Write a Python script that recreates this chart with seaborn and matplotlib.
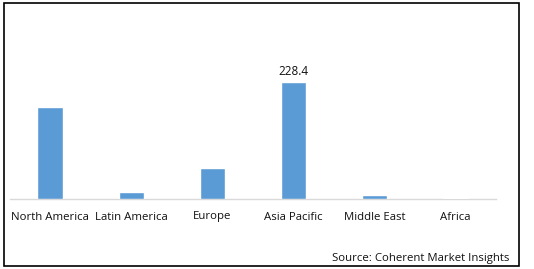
import matplotlib
matplotlib.use("Agg")
import matplotlib.pyplot as plt
from matplotlib.patches import Rectangle
import seaborn as sns
import pandas as pd

regions = ["North America", "Latin America", "Europe", "Asia Pacific", "Middle East", "Africa"]
values = [179.6, 13.7, 60.5, 228.4, 7.8, 2.6]
labeled_region = "Asia Pacific"
source_text = "Source: Coherent Market Insights"

sns.set_theme(style="white")
plt.rcParams['font.family'] = ['Open Sans', 'DejaVu Sans']

W, H = 534, 269
fig = plt.figure(figsize=(W / 100, H / 100), dpi=100)
ax = fig.add_axes([9.5 / W, 1 - 199 / H, (496 - 9.5) / W, (199 - 20) / H])

df = pd.DataFrame({"region": regions, "value": values})
sns.barplot(data=df, x="region", y="value", color="#5B9BD5", width=0.31,
            saturation=1, ax=ax)
for p in ax.patches:
    p.set_zorder(3)

ax.set_xlim(-0.5, len(regions) - 0.5)
ax.set_ylim(0, 350)
ax.set_xlabel("")
ax.set_ylabel("")
ax.set_yticks([])
for s in ["top", "right", "left"]:
    ax.spines[s].set_visible(False)
ax.spines["bottom"].set_color("#D9D9D9")
ax.spines["bottom"].set_linewidth(1)
ax.spines["bottom"].set_zorder(1)
ax.tick_params(axis="x", length=0, pad=9, labelsize=8.2, labelcolor="#111111")

idx = regions.index(labeled_region)
ax.text(idx, values[idx] + 9, f"{values[idx]:.1f}", ha="center", va="bottom",
        fontsize=8.4, color="#111111")

fig.text(509 / W, 1 - 259 / H, source_text, ha="right", va="center",
         fontsize=8.2, color="#111111")

fig.patches.append(Rectangle((4 / W, 1 - 266 / H), (519 - 4) / W, (266 - 3) / H,
                             transform=fig.transFigure, fill=False,
                             edgecolor="black", linewidth=1.2))

fig.savefig("out.png", dpi=100)
